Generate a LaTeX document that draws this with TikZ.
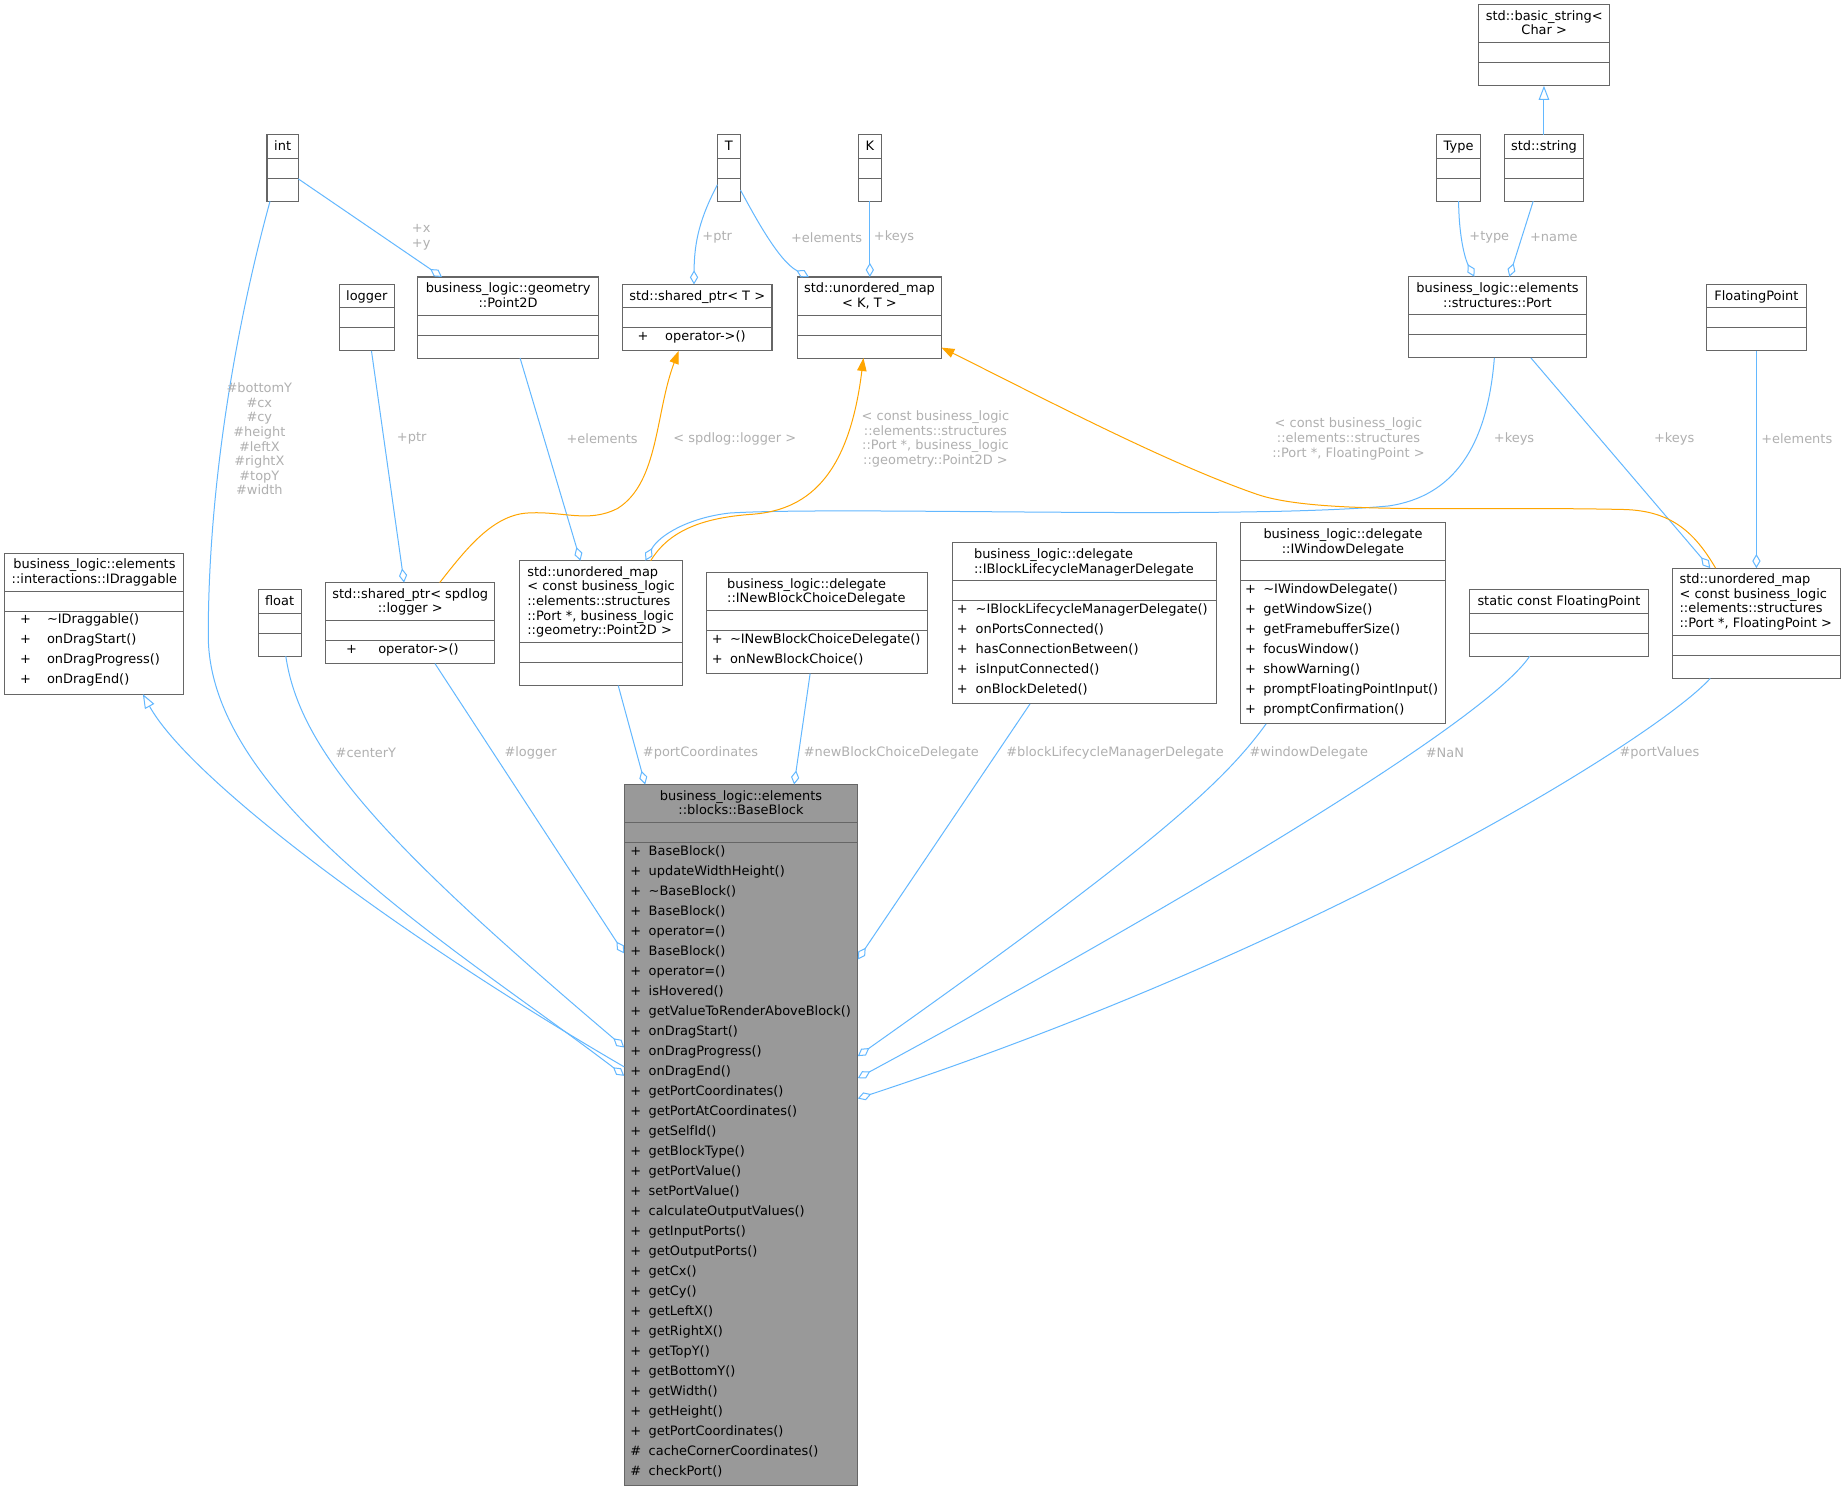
\documentclass[tikz,border=0pt]{standalone}
\usepackage{fontspec}
\setmainfont{DejaVu Sans}
\usetikzlibrary{arrows.meta}
\definecolor{eblue}{HTML}{63B8FF}
\definecolor{eorange}{HTML}{FFA500}
\definecolor{bgray}{HTML}{666666}
\definecolor{lgray}{HTML}{B0B0B0}
\definecolor{bbfill}{HTML}{999999}

\tikzset{
  classbox/.style={draw=bgray, line width=0.9pt, inner sep=0pt, outer sep=0pt, rectangle},
  boxline/.style={draw=bgray, line width=0.9pt},
  ctext/.style={inner sep=0pt, text=black},
  lbl/.style={inner sep=0pt, text=lgray, align=center},
  conn/.style={draw=eblue, line width=0.85pt},
  agg/.style={conn, -{Diamond[open, length=12pt, width=7pt]}},
  inh/.style={conn, -{Triangle[open, length=12pt, width=9pt]}},
  tmpl/.style={draw=eorange, line width=0.85pt, -{Triangle[length=11pt, width=8pt, fill=eorange]}},
}

\newcommand\cbox[7]{%
  \pgfmathsetmacro\cbHH{20+12.4*(#5-1)}%
  \pgfmathsetmacro\cbMH{(#6==0)?19.5:(17*#6+2.5)}%
  \pgfmathsetmacro\cbTH{\cbHH+17+\cbMH}%
  \pgfmathsetmacro\cbHB{\cbHH+17}%
  \node[classbox, fill=#7, minimum width=#4pt, minimum height=\cbTH pt, anchor=north west] (#1) at (#2,#3) {};%
  \draw[boxline] ([yshift=-\cbHH pt]#1.north west) -- ([yshift=-\cbHH pt]#1.north east);%
  \draw[boxline] ([yshift=-\cbHB pt]#1.north west) -- ([yshift=-\cbHB pt]#1.north east);%
}

\newcommand\methods[5]{%
  \foreach \s/\m [count=\i from 0] in {#5} {%
    \node[ctext, anchor=mid] (#1p\i) at (#2, #4+17*\i) {\s};%
    \node[ctext, anchor=mid west] (#1m\i) at (#3, #4+17*\i) {\m};%
  }%
}

\begin{document}
\begin{tikzpicture}[x=1pt, y=-1pt, font=\fontsize{11pt}{12.4pt}\selectfont]
\fill[white] (0,0) rectangle (1568,1267);
\useasboundingbox (0,0) rectangle (1568,1267);

% ---------- boxes ----------
\cbox{int}{226.9}{114.5}{26.6}{1}{0}{white}
\cbox{T}{609.7}{114.5}{19.6}{1}{0}{white}
\cbox{K}{729.5}{114.5}{19.5}{1}{0}{white}
\cbox{type}{1220.9}{114.5}{37.4}{1}{0}{white}
\cbox{strg}{1278.6}{114.5}{67.1}{1}{0}{white}
\cbox{bstr}{1256.7}{4}{111.3}{2}{0}{white}
\cbox{logger}{288.4}{241.7}{46.7}{1}{0}{white}
\cbox{p2d}{355.2}{235.4}{153.3}{2}{0}{white}
\cbox{spt}{529}{241.7}{127.1}{1}{1}{white}
\cbox{mkt}{677.8}{235.4}{122.3}{2}{0}{white}
\cbox{port}{1196.7}{235.2}{151.9}{2}{0}{white}
\cbox{fp}{1450}{241.7}{85.4}{1}{0}{white}
\cbox{idr}{4.2}{470}{152.1}{2}{4}{white}
\cbox{flt}{219.3}{501.2}{36.6}{1}{0}{white}
\cbox{spl}{276.7}{495.1}{143.9}{2}{1}{white}
\cbox{mp2d}{441.4}{476.5}{138.7}{5}{0}{white}
\cbox{inb}{600.7}{486.5}{187.8}{2}{2}{white}
\cbox{ibl}{809.5}{461.3}{224}{2}{5}{white}
\cbox{iwd}{1053.9}{444.3}{174.9}{2}{7}{white}
\cbox{scfp}{1249}{501.2}{151.8}{1}{0}{white}
\cbox{mfp}{1421}{482.8}{143}{4}{0}{white}
\cbox{bb}{530.5}{666.7}{198.5}{2}{32}{bbfill}

% ---------- header texts ----------
\node[ctext, anchor=mid] (int-h) at (240.2,125.1) {int};
\node[ctext, anchor=mid] (T-h) at (619.5,125.1) {T};
\node[ctext, anchor=mid] (K-h) at (739.3,125.1) {K};
\node[ctext, anchor=mid] (type-h) at (1239.6,125.1) {Type};
\node[ctext, anchor=mid] (strg-h) at (1312.15,125.1) {std::string};
\node[ctext, anchor=mid] (bstr-h1) at (1312.35,14.6) {std::basic\_string<};
\node[ctext, anchor=mid] (bstr-h2) at (1312.35,27.0) {Char >};
\node[ctext, anchor=mid] (logger-h) at (311.75,252.3) {logger};
\node[ctext, anchor=mid] (p2d-h1) at (431.85,246.0) {business\_logic::geometry};
\node[ctext, anchor=mid] (p2d-h2) at (431.85,258.4) {::Point2D};
\node[ctext, anchor=mid] (spt-h) at (592.55,252.3) {std::shared\_ptr< T >};
\node[ctext, anchor=mid] (mkt-h1) at (738.95,246.0) {std::unordered\_map};
\node[ctext, anchor=mid] (mkt-h2) at (738.95,258.4) {< K, T >};
\node[ctext, anchor=mid] (port-h1) at (1272.65,245.8) {business\_logic::elements};
\node[ctext, anchor=mid] (port-h2) at (1272.65,258.2) {::structures::Port};
\node[ctext, anchor=mid] (fp-h) at (1492.7,252.3) {FloatingPoint};
\node[ctext, anchor=mid] (idr-h1) at (80.25,480.6) {business\_logic::elements};
\node[ctext, anchor=mid] (idr-h2) at (80.25,493.0) {::interactions::IDraggable};
\node[ctext, anchor=mid] (flt-h) at (237.6,511.8) {float};
\node[ctext, anchor=mid] (spl-h1) at (348.65,505.7) {std::shared\_ptr< spdlog};
\node[ctext, anchor=mid] (spl-h2) at (348.65,518.1) {::logger >};
\node[ctext, anchor=mid west] (mp2d-h1) at (448,487.1) {std::unordered\_map};
\node[ctext, anchor=mid west] (mp2d-h2) at (448,499.5) {< const business\_logic};
\node[ctext, anchor=mid west] (mp2d-h3) at (448,511.9) {::elements::structures};
\node[ctext, anchor=mid west] (mp2d-h4) at (448,524.3) {::Port *, business\_logic};
\node[ctext, anchor=mid west] (mp2d-h5) at (448,536.7) {::geometry::Point2D >};
\node[ctext, anchor=mid west] (inb-h1) at (617.8,497.1) {business\_logic::delegate};
\node[ctext, anchor=mid west] (inb-h2) at (617.8,509.5) {::INewBlockChoiceDelegate};
\node[ctext, anchor=mid west] (ibl-h1) at (827.6,471.9) {business\_logic::delegate};
\node[ctext, anchor=mid west] (ibl-h2) at (827.6,484.3) {::IBlockLifecycleManagerDelegate};
\node[ctext, anchor=mid] (iwd-h1) at (1141.35,454.9) {business\_logic::delegate};
\node[ctext, anchor=mid] (iwd-h2) at (1141.35,467.3) {::IWindowDelegate};
\node[ctext, anchor=mid] (scfp-h) at (1324.9,511.8) {static const FloatingPoint};
\node[ctext, anchor=mid west] (mfp-h1) at (1427.2,493.4) {std::unordered\_map};
\node[ctext, anchor=mid west] (mfp-h2) at (1427.2,505.8) {< const business\_logic};
\node[ctext, anchor=mid west] (mfp-h3) at (1427.2,518.2) {::elements::structures};
\node[ctext, anchor=mid west] (mfp-h4) at (1427.2,530.6) {::Port *, FloatingPoint >};
\node[ctext, anchor=mid] (bb-h1) at (629.75,677.3) {business\_logic::elements};
\node[ctext, anchor=mid] (bb-h2) at (629.75,689.7) {::blocks::BaseBlock};

% ---------- methods ----------
\methods{idr}{21.8}{39.8}{527.4}{+/\textasciitilde IDraggable(), +/onDragStart(), +/onDragProgress(), +/onDragEnd()}
\methods{spl}{298.8}{321.3}{552.5}{+/operator->()}
\methods{spt}{546.5}{565.1}{286.7}{+/operator->()}
\methods{inb}{609.5}{620.2}{543.9}{+/\textasciitilde INewBlockChoiceDelegate(), +/onNewBlockChoice()}
\methods{ibl}{817.8}{829}{518.7}{+/\textasciitilde IBlockLifecycleManagerDelegate(), +/onPortsConnected(), +/hasConnectionBetween(), +/isInputConnected(), +/onBlockDeleted()}
\methods{iwd}{1062.7}{1073.5}{501.7}{+/\textasciitilde IWindowDelegate(), +/getWindowSize(), +/getFramebufferSize(), +/focusWindow(), +/showWarning(), +/promptFloatingPointInput(), +/promptConfirmation()}
\methods{bb}{540.3}{551.1}{724.1}{+/BaseBlock(), +/updateWidthHeight(), +/\textasciitilde BaseBlock(), +/BaseBlock(), +/operator=(), +/BaseBlock(), +/operator=(), +/isHovered(), +/getValueToRenderAboveBlock(), +/onDragStart(), +/onDragProgress(), +/onDragEnd(), +/getPortCoordinates(), +/getPortAtCoordinates(), +/getSelfId(), +/getBlockType(), +/getPortValue(), +/setPortValue(), +/calculateOutputValues(), +/getInputPorts(), +/getOutputPorts(), +/getCx(), +/getCy(), +/getLeftX(), +/getRightX(), +/getTopY(), +/getBottomY(), +/getWidth(), +/getHeight(), +/getPortCoordinates(), \#/cacheCornerCoordinates(), \#/checkPort()}

% ---------- connectors ----------
\draw[inh] (strg.north) -- (strg.north |- bstr.south);
\draw[inh] ([yshift=-240pt]bb.north west) .. controls (330,790) and (160,660) .. ([xshift=117.2pt]idr.south west);

\draw[agg] (type.south) .. controls (1240,205) and (1246,222) .. ([xshift=56.3pt]port.north west);
\draw[agg] ([xshift=24.4pt]strg.south west) -- ([xshift=86pt]port.north west);
\draw[agg] ([yshift=-37.5pt]int.north east) -- ([xshift=20.4pt]p2d.north west);
\draw[agg] ([xshift=2.6pt]int.south west) .. controls (205,260) and (177,400) .. (177,540) .. controls (177,680) and (390,807) .. ([yshift=-247.6pt]bb.north west);
\draw[agg] ([xshift=23.6pt]flt.south west) .. controls (255,640) and (330,720) .. ([yshift=-223.5pt]bb.north west);
\draw[agg] ([xshift=27.3pt]logger.south west) -- ([xshift=66.7pt]spl.north west);
\draw[agg] ([xshift=93pt]spl.south west) -- ([yshift=-143.6pt]bb.north west);
\draw[agg] ([yshift=-42.5pt]T.north west) .. controls (595,185) and (590,205) .. ([xshift=60.8pt]spt.north west);
\draw[agg] ([yshift=-47pt]T.north east) .. controls (642,185) and (662,222) .. ([xshift=9.6pt]mkt.north west);
\draw[agg] (K.south) -- (K.south |- mkt.north);
\draw[agg] ([xshift=86.8pt]p2d.south west) -- ([xshift=51.9pt]mp2d.north west);
\draw[agg] ([xshift=73.3pt]port.south west) .. controls (1264,380) and (1235,422) .. (1180,430) .. controls (1050,442) and (720,430) .. (620,436) .. controls (585,440) and (560,455) .. ([xshift=107.1pt]mp2d.north west);
\draw[agg] ([xshift=104.3pt]port.south west) -- ([xshift=32.5pt]mfp.north west);
\draw[agg] (fp.south) -- (fp.south |- mfp.north);
\draw[agg] ([xshift=84pt]mp2d.south west) -- ([xshift=17.8pt]bb.north west);
\draw[agg] ([xshift=87.8pt]inb.south west) -- ([xshift=144.4pt]bb.north west);
\draw[agg] ([xshift=65.9pt]ibl.south west) -- ([yshift=-148.7pt]bb.north east);
\draw[agg] ([xshift=22.1pt]iwd.south west) .. controls (1040,665) and (980,720) .. ([yshift=-230.9pt]bb.north east);
\draw[agg] ([xshift=51pt]scfp.south west) .. controls (1265,610) and (1029,754) .. ([yshift=-249.6pt]bb.north east);
\draw[agg] ([xshift=32.5pt]mfp.south west) .. controls (1410,625) and (1129,801.6) .. ([yshift=-266.9pt]bb.north east);

\draw[tmpl] ([xshift=97pt]spl.north west) .. controls (395,468) and (418,438) .. (448,436) .. controls (478,434) and (500,445) .. (525,432) .. controls (560,410) and (557,350) .. ([xshift=47.8pt]spt.south west);
\draw[tmpl] ([xshift=111.6pt]mp2d.north west) .. controls (568,452) and (595,440) .. (640,437) .. controls (690,433) and (722,400) .. ([xshift=56pt]mkt.south west);
\draw[tmpl] ([xshift=37pt]mfp.north west) .. controls (1440,452) and (1420,434) .. (1380,433) .. controls (1250,430) and (1120,438) .. (1068,420) .. controls (990,393) and (880,335) .. ([yshift=-60pt]mkt.north east);

% ---------- labels ----------
\node[lbl] (l-xy) at (358,201.8) {+x\\+y};
\node[lbl] (l-int) at (220.4,373) {\#bottomY\\\#cx\\\#cy\\\#height\\\#leftX\\\#rightX\\\#topY\\\#width};
\node[lbl] (l-tptr) at (609.5,201.7) {+ptr};
\node[lbl] (l-telem) at (702.5,201.7) {+elements};
\node[lbl] (l-kkeys) at (759.8,201.7) {+keys};
\node[lbl] (l-type) at (1265.7,201.7) {+type};
\node[lbl] (l-name) at (1320.6,201.7) {+name};
\node[lbl] (l-lptr) at (349.9,372.6) {+ptr};
\node[lbl] (l-pelem) at (511.7,372.6) {+elements};
\node[lbl] (l-spd) at (624.5,372.6) {< spdlog::logger >};
\node[lbl] (l-tp2d) at (795,373) {< const business\_logic\\::elements::structures\\::Port *, business\_logic\\::geometry::Point2D >};
\node[lbl] (l-tfp) at (1146,373) {< const business\_logic\\::elements::structures\\::Port *, FloatingPoint >};
\node[lbl] (l-pk1) at (1286.7,372.9) {+keys};
\node[lbl] (l-pk2) at (1422.8,372.9) {+keys};
\node[lbl] (l-fpe) at (1527,372.9) {+elements};
\node[lbl] (l-cy) at (311,639.7) {\#centerY};
\node[lbl] (l-log) at (450.9,639.7) {\#logger};
\node[lbl] (l-pc) at (595.3,639.7) {\#portCoordinates};
\node[lbl] (l-nbc) at (757.5,639.7) {\#newBlockChoiceDelegate};
\node[lbl] (l-blm) at (947.6,639.7) {\#blockLifecycleManagerDelegate};
\node[lbl] (l-wd) at (1112.3,639.7) {\#windowDelegate};
\node[lbl] (l-nan) at (1228,639.7) {\#NaN};
\node[lbl] (l-pv) at (1410.3,639.7) {\#portValues};
\end{tikzpicture}
\end{document}
